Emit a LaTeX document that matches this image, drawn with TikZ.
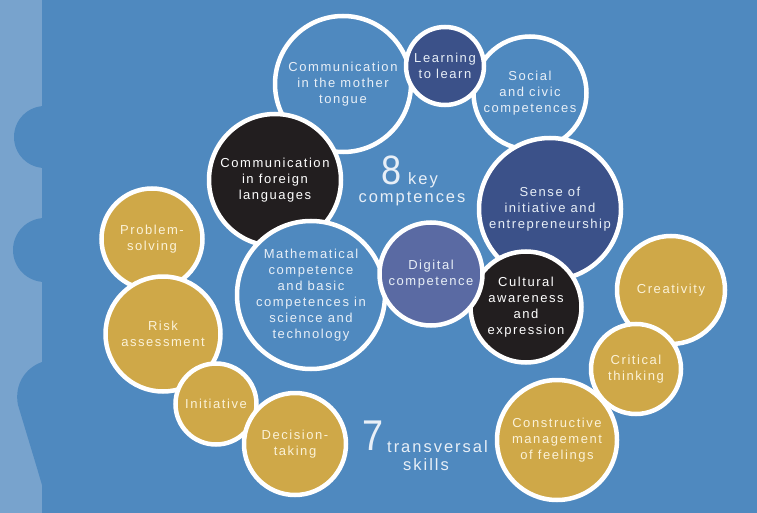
\documentclass[tikz,border=0pt]{standalone}
\usepackage{fontspec}
\setmainfont[LetterSpace=12]{Liberation Sans}
\newfontfamily\numfont{Liberation Sans}
\usepackage{tikz}

\definecolor{stripblue}{HTML}{78A3CD}
\definecolor{bgblue}{HTML}{4F89BF}
\definecolor{navy}{HTML}{3B5189}
\definecolor{slate}{HTML}{5A6AA3}
\definecolor{ink}{HTML}{221E1F}
\definecolor{gold}{HTML}{CFA848}
\definecolor{paleblue}{HTML}{E8EFF7}
\definecolor{cream}{HTML}{FBF2D8}

\tikzset{
  disc/.style={circle,draw=white,line width=4.5pt,inner sep=0pt,align=center,
    font=\fontsize{13}{16}\selectfont},
  bluedisc/.style={disc,fill=bgblue,text=paleblue},
  navydisc/.style={disc,fill=navy,text=paleblue},
  inkdisc/.style={disc,fill=ink,text=white},
  golddisc/.style={disc,fill=gold,text=cream},
  bigword/.style={text=paleblue,inner sep=0pt,font=\fontsize{16.5}{18}\selectfont}
}

\begin{document}
\begin{tikzpicture}[x=1pt,y=-1pt]
\useasboundingbox (0,0) rectangle (757,513);
\fill[stripblue] (0,0) rectangle (757,513);
% main panel with its bumps
\fill[bgblue] (42,0) rectangle (757,513);
\fill[bgblue] (45,137) circle (31);
\fill[bgblue] (45,250) circle (32);
\fill[bgblue] (42,362) .. controls (25,368) and (14,385) .. (18,405)
  -- (37,468) .. controls (39,476) .. (42,485) -- cycle;

% 8 key competences
\node[bluedisc,minimum size=136pt] (tongue) at (343,84) {Communication\\in the mother\\tongue};
\node[bluedisc,minimum size=113pt] (social) at (530,93) {Social\\and civic\\competences};
\node[navydisc,minimum size=78pt] (learn) at (445,66) {Learning\\to learn};
\node[inkdisc,minimum size=132pt] (foreign) at (275,180) {Communication\\in foreign\\languages};
\node[navydisc,minimum size=142pt] (sense) at (550,209) {Sense of\\initiative and\\entrepreneurship};
\node[bluedisc,minimum size=148pt] (maths) at (311,295) {Mathematical\\competence\\and basic\\competences in\\science and\\technology};
\node[inkdisc,minimum size=111pt] (culture) at (526,307) {Cultural\\awareness\\and\\expression};
\node[disc,fill=slate,text=paleblue,minimum size=103pt] (digital) at (431,274) {Digital\\competence};

% 7 transversal skills
\node[golddisc,minimum size=101pt] (problem) at (152,239) {Problem-\\solving};
\node[golddisc,minimum size=115pt] (risk) at (163,334) {Risk\\assessment};
\node[golddisc,minimum size=81pt] (initiative) at (216,404) {Initiative};
\node[golddisc,minimum size=102pt] (decision) at (295,444) {Decision-\\taking};
\node[golddisc,minimum size=108pt] (creative) at (671,290) {Creativity};
\node[golddisc,minimum size=90pt] (critical) at (636,369) {Critical\\thinking};
\node[golddisc,minimum size=120pt] (feelings) at (557,440) {Constructive\\management\\of feelings};

% headings
\node[text=paleblue,inner sep=0pt,xscale=0.88,font=\numfont\fontsize{41}{41}\selectfont] (eight) at (392,170) {8};
\node[bigword,anchor=base west] (key) at (408,185) {key};
\node[bigword,anchor=base] (comp) at (412,203) {comptences};
\node[text=paleblue,inner sep=0pt,xscale=0.88,font=\numfont\fontsize{43}{43}\selectfont] (seven) at (373,436) {7};
\node[bigword,anchor=base west] (trans) at (387,452) {transversal};
\node[bigword,anchor=base] (skills) at (426,470) {skills};
\end{tikzpicture}
\end{document}
